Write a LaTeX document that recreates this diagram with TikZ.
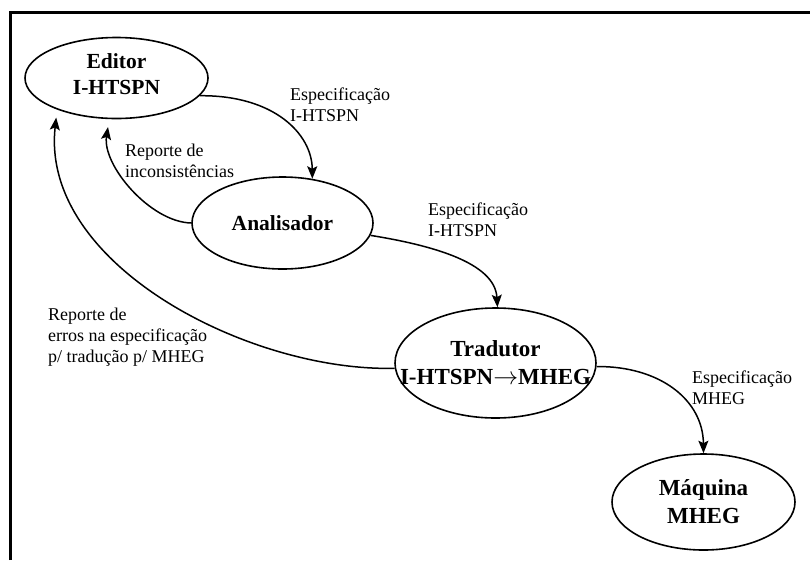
\documentclass[tikz,border=0pt]{standalone}
\usepackage{fontspec}
\setmainfont{Liberation Serif}
\usetikzlibrary{shapes.geometric,arrows.meta}
\begin{document}
\begin{tikzpicture}[x=1pt,y=-1pt,
  state/.style={ellipse, draw, line width=1.6pt, inner sep=-40pt, align=center,
                font=\fontsize{21.5}{26}\selectfont\bfseries},
  bigstate/.style={state, font=\fontsize{23}{28}\selectfont\bfseries},
  flow/.style={line width=1.5pt, -{Stealth[length=12.5pt,width=10pt,inset=2.5pt]}},
  note/.style={align=left, anchor=north west, inner sep=0pt,
               font=\fontsize{18}{21}\selectfont},
  frame/.style={line width=3pt}]
\useasboundingbox (0,0) rectangle (810,560);

% outer frame (top and left edges)
\draw[frame] (10.5,560) -- (10.5,12.5) -- (810,12.5);

% components
\node[state, minimum width=183pt, minimum height=81pt, text depth=8pt] (editor) at (116.5,78) {Editor\\I-HTSPN};
\node[state, minimum width=181pt, minimum height=92pt]  (ana)  at (282.5,223) {Analisador};
\node[bigstate, minimum width=201pt, minimum height=110pt] (trad) at (495.5,363) {Tradutor\\I-HTSPN$\rightarrow$MHEG};
\node[bigstate, minimum width=183pt, minimum height=96pt]  (maq)  at (703.5,502) {Máquina\\MHEG};

% data flows
\draw[flow] (editor.-12) .. controls (274,95) and (312,134) .. (ana.56);
\draw[flow, shorten >=8pt] (ana.180) .. controls (150,222) and (102,165) .. (editor.-100);
\draw[flow, shorten >=8pt] (trad.183) .. controls (250,372) and (40,265) .. (editor.208);
\draw[flow] (ana.-8) .. controls (430,245) and (495,262) .. (trad.88);
\draw[flow] (trad.-2) .. controls (660,366) and (703,400) .. (maq.90);

% flow labels
\node[note] (l1) at (290,87.7)  {Especificação\\I-HTSPN};
\node[note] (l2) at (125,143.7) {Reporte de\\inconsistências};
\node[note] (l3) at (428,202.7) {Especificação\\I-HTSPN};
\node[note] (l4) at (48,307.7)  {Reporte de\\erros na especificação\\p/ tradução p/ MHEG};
\node[note] (l5) at (692,370.7) {Especificação\\MHEG};
\end{tikzpicture}
\end{document}
